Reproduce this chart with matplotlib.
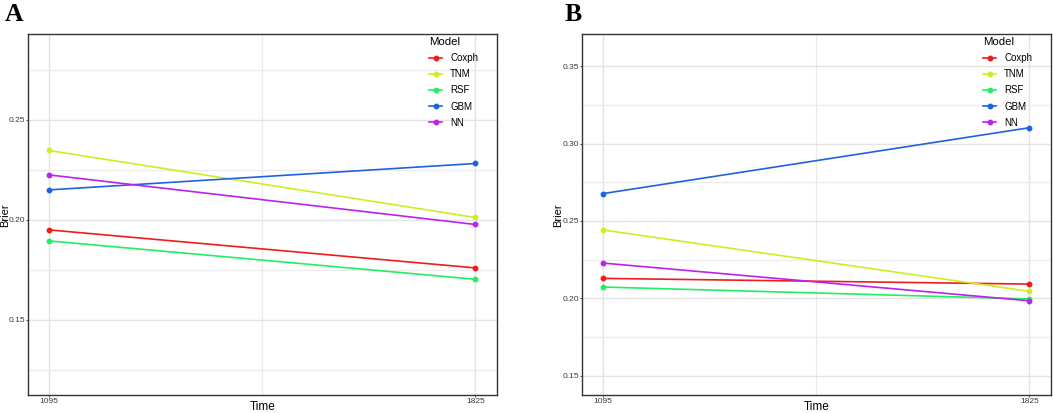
import numpy as np
import matplotlib.pyplot as plt

times = [1095, 1825]
models = ['Coxph', 'TNM', 'RSF', 'GBM', 'NN']
colors = ['#EE1C1C', '#CCEE22', '#22EE66', '#1F62E0', '#BB22EE']

# Brier score por modelo (panel A y panel B)
brier_a = {
    'Coxph': [0.1950, 0.1760],
    'TNM':   [0.2347, 0.2012],
    'RSF':   [0.1895, 0.1703],
    'GBM':   [0.2150, 0.2282],
    'NN':    [0.2225, 0.1977],
}
brier_b = {
    'Coxph': [0.2129, 0.2092],
    'TNM':   [0.2442, 0.2045],
    'RSF':   [0.2073, 0.1996],
    'GBM':   [0.2677, 0.3103],
    'NN':    [0.2228, 0.1984],
}

ylims = [(0.1123, 0.2928), (0.1373, 0.3707)]
yticks = [[0.15, 0.20, 0.25], [0.15, 0.20, 0.25, 0.30, 0.35]]
yminor = [[0.125, 0.175, 0.225, 0.275], [0.175, 0.225, 0.275, 0.325]]

plt.rcParams['font.family'] = ['Liberation Sans', 'DejaVu Sans']

fig = plt.figure(figsize=(10.53, 4.13), dpi=100)
W, H = 1053, 413
boxes = [(27.7, 496.7), (581.7, 1050.7)]
top, bot = 34.3, 395.3
labels = ['A', 'B']
label_x = [5, 565]
ylab_x = [5.2, 558.5]

for i, data in enumerate([brier_a, brier_b]):
    x0, x1 = boxes[i]
    aw, ah = x1 - x0, bot - top
    ax = fig.add_axes([x0 / W, 1 - bot / H, aw / W, ah / H])
    for m, c in zip(models, colors):
        ax.plot(times, data[m], '-o', color=c, lw=1.2, ms=3.2, label=m)
    ax.set_xlim(1058.5, 1861.5)
    ax.set_ylim(*ylims[i])
    ax.set_xticks(times)
    ax.set_xticks([1460], minor=True)
    ax.set_yticks(yticks[i])
    ax.set_yticks(yminor[i], minor=True)
    ax.set_yticklabels(['%.2f' % v for v in yticks[i]])
    ax.grid(True, which='major', color='#E3E3E3', lw=1.0)
    ax.grid(True, which='minor', color='#EBEBEB', lw=0.9)
    ax.set_axisbelow(True)
    ax.tick_params(axis='both', which='major', labelsize=6, colors='#333333',
                   labelcolor='#3A3A3A', length=1.5, width=0.6, pad=0.5)
    ax.tick_params(which='minor', length=0)
    for s in ax.spines.values():
        s.set_color('#333333')
        s.set_linewidth(1.0)
    ax.set_xlabel('Time', fontsize=8.5, va='center')
    ax.xaxis.set_label_coords(0.5, (bot - 407) / ah)
    ax.set_ylabel('Brier', fontsize=8, va='center')
    ax.yaxis.set_label_coords((ylab_x[i] - x0) / aw, 0.5)
    leg = ax.legend(title='Model', loc='upper left', frameon=False,
                    fontsize=7, title_fontsize=8.2, handlelength=1.3,
                    handletextpad=0.85, labelspacing=0.64, borderpad=0.25,
                    borderaxespad=0, bbox_to_anchor=(0.851, 1.0))
    leg._legend_box.align = 'left'
    fig.text(label_x[i] / W, 1 - 3 / H, labels[i], fontsize=18.5,
             fontweight='bold', family='Liberation Serif', va='top', ha='left')

fig.savefig('out.png', dpi=100)
